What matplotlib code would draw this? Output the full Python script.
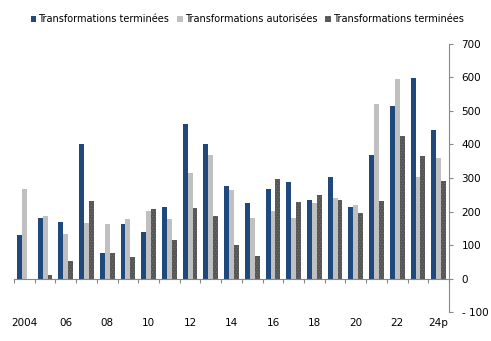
import numpy as np
import matplotlib
matplotlib.use("Agg")
import matplotlib.pyplot as plt

plt.rcParams['font.family'] = ['DejaVu Sans']
plt.rcParams['hatch.linewidth'] = 0.6

years = ['2004', '2005', '2006', '2007', '2008', '2009', '2010', '2011', '2012', '2013',
         '2014', '2015', '2016', '2017', '2018', '2019', '2020', '2021', '2022', '2023', '2024p']
year_labels = ['2004', '06', '08', '10', '12', '14', '16', '18', '20', '22', '24p']
finished = [129, 182, 168, 401, 76, 162, 138, 213, 460, 401,
            276, 224, 266, 287, 233, 302, 212, 368, 514, 597, 443]
authorised = [267, 186, 132, 165, 162, 177, 201, 177, 314, 368,
              264, 182, 203, 182, 224, 239, 218, 520, 595, 302, 359]
finished2 = [0, 10, 52, 231, 76, 64, 207, 114, 210, 186,
             99, 66, 296, 227, 248, 233, 197, 231, 425, 365, 290]
names = ['Transformations terminées', 'Transformations autorisées', 'Transformations terminées']

x = np.arange(len(years))
w = 0.235

fig = plt.figure(figsize=(4.91, 3.41), dpi=100)
ax = fig.add_axes([0.0285, 0.085, 0.886, 0.786])

ax.bar(x - w, finished, w, color='#1f497d', label=names[0])
ax.bar(x, authorised, w, color='#c0c0c0', label=names[1])
ax.bar(x + w, finished2, w, color='#555555', hatch='......', edgecolor='#6e6e6e',
       linewidth=0, label=names[2])

ax.set_xlim(-0.5, len(years) - 0.5)
ax.set_ylim(-100, 700)

# y axis on the right
ax.yaxis.tick_right()
ax.set_yticks(range(-100, 701, 100))
ax.set_yticklabels(['- 100' if v < 0 else str(v) for v in range(-100, 701, 100)])
ax.tick_params(axis='y', direction='out', length=3, width=0.8, color='#888888',
               labelsize=7.5, pad=6)
for t in ax.get_yticklabels():
    t.set_horizontalalignment('left')

ax.spines['left'].set_visible(False)
ax.spines['top'].set_visible(False)
ax.spines['right'].set_color('#888888')
ax.spines['bottom'].set_color('#888888')
ax.spines['bottom'].set_position(('data', 0))

# category separators on the zero line
ax.set_xticks(np.arange(-0.5, len(years), 1.0))
ax.set_xticklabels([])
ax.tick_params(axis='x', direction='out', length=3, width=0.8, color='#888888')

# year labels along the bottom edge
sec = ax.secondary_xaxis('bottom')
sec.spines['bottom'].set_visible(False)
sec.set_xticks(x[::2])
sec.set_xticklabels(year_labels)
sec.tick_params(length=0, labelsize=7.5, pad=4)

ax.legend(loc='center', bbox_to_anchor=(0.536, 1.093), ncol=3, frameon=False,
          fontsize=7, handlelength=0.6, handleheight=0.6, handletextpad=0.2,
          columnspacing=0.8, borderaxespad=0)

fig.savefig('out.png', dpi=100)
